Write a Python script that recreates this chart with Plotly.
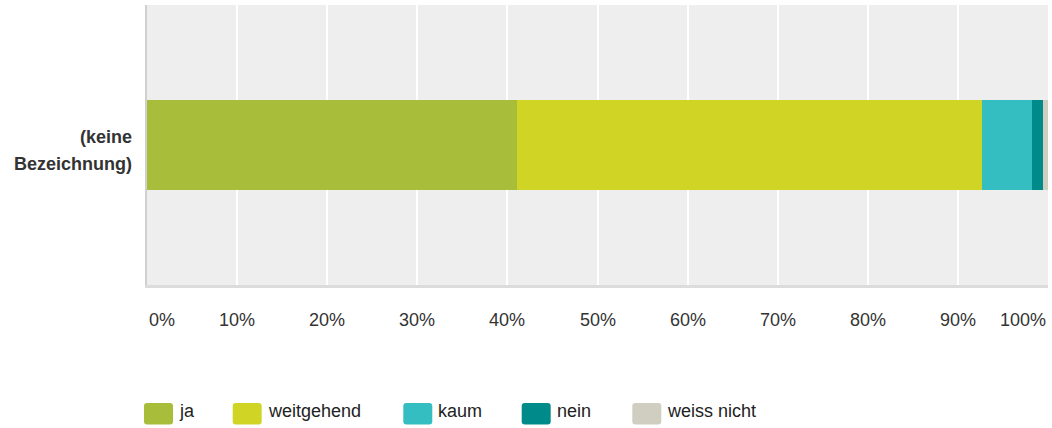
import plotly.graph_objects as go

# ---- data ----
categories = ["(keine Bezeichnung)"]
series_names = ["ja", "weitgehend", "kaum", "nein", "weiss nicht"]
series_values = [41.1, 51.6, 5.5, 1.2, 0.6]
series_colors = ["#a8bd3a", "#d0d525", "#35bec1", "#008b8a", "#d0cec0"]
tick_values = [0, 10, 20, 30, 40, 50, 60, 70, 80, 90, 100]
tick_labels = ["0%", "10%", "20%", "30%", "40%", "50%", "60%", "70%", "80%", "90%", "100%"]

W, H = 1052, 428
L, R, T, B = 147, 4, 5, 143
PW, PH = W - L - R, H - T - B
FONT = "Liberation Sans, Arial, sans-serif"


def px_x(px):
    return (px - L) / PW


def px_y(py):
    return (T + PH - py) / PH


fig = go.Figure()
for name, val, col in zip(series_names, series_values, series_colors):
    fig.add_trace(go.Bar(
        x=[val], y=[0], orientation="h", name=name,
        marker=dict(color=col, line=dict(width=0)),
        width=0.321, showlegend=False, hoverinfo="x+name",
    ))

annotations = []
# x tick labels (first/last clamped inside plot like the original)
for i, (v, t) in enumerate(zip(tick_values, tick_labels)):
    anchor = "left" if i == 0 else ("right" if i == len(tick_values) - 1 else "center")
    annotations.append(dict(
        x=v, xref="x", y=px_y(319.5), yref="paper", text=t, showarrow=False,
        xanchor=anchor, yanchor="middle", font=dict(family=FONT, size=18, color="#333333"),
    ))

# category label, two lines
words = categories[0].split(" ")
for w, py in zip(words, [136.7, 163.7]):
    annotations.append(dict(
        x=0, xref="paper", xshift=-13, y=px_y(py), yref="paper", text="<b>" + w + "</b>",
        showarrow=False, xanchor="right", yanchor="middle",
        font=dict(family=FONT, size=18, color="#333333"),
    ))

# custom legend
sq_left = [144, 232.7, 403.3, 521.7, 632.3]
shapes = []
rx, ry = 3 / PW, 3 / PH
for name, col, sx in zip(series_names, series_colors, sq_left):
    x0, x1 = px_x(sx), px_x(sx + 29)
    y0, y1 = px_y(424.5), px_y(403)
    path = (f"M {x0+rx},{y0} L {x1-rx},{y0} Q {x1},{y0} {x1},{y0+ry} "
            f"L {x1},{y1-ry} Q {x1},{y1} {x1-rx},{y1} L {x0+rx},{y1} "
            f"Q {x0},{y1} {x0},{y1-ry} L {x0},{y0+ry} Q {x0},{y0} {x0+rx},{y0} Z")
    shapes.append(dict(type="path", xref="paper", yref="paper", path=path,
                       fillcolor=col, line=dict(width=0)))
    annotations.append(dict(
        x=px_x(sx + 33), xref="paper", y=px_y(410.7), yref="paper", text=name,
        showarrow=False, xanchor="left", yanchor="middle",
        font=dict(family=FONT, size=18, color="#222222"),
    ))

fig.update_layout(
    width=W, height=H, barmode="stack",
    margin=dict(l=L, r=R, t=T, b=B, pad=0),
    paper_bgcolor="white", plot_bgcolor="#eeeeee",
    xaxis=dict(range=[0, 100], tickvals=tick_values, showticklabels=False,
               showgrid=True, gridcolor="white", gridwidth=2, zeroline=False,
               showline=True, linecolor="#dcdcdc", linewidth=3, fixedrange=True),
    yaxis=dict(range=[-0.5, 0.5], showticklabels=False, showgrid=False, zeroline=False,
               showline=True, linecolor="#d0d0d0", linewidth=2, fixedrange=True),
    annotations=annotations, shapes=shapes, showlegend=False,
)

fig.write_html(
    "out.html",
    config={"displayModeBar": False},
    post_script="document.body.style.margin='0';document.body.style.overflow='hidden';",
)
